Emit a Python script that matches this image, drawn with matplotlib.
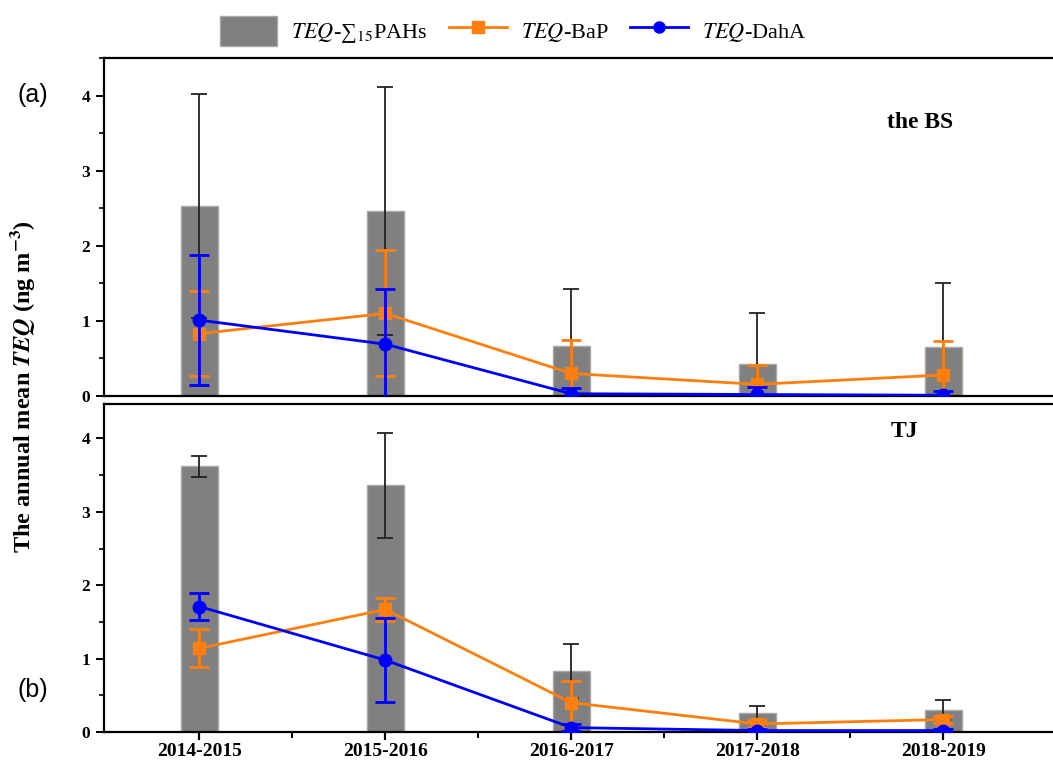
import matplotlib
matplotlib.use("Agg")
import matplotlib.pyplot as plt
import matplotlib.patches as mpatches
from matplotlib.lines import Line2D
from matplotlib.ticker import MultipleLocator, FixedLocator

plt.rcParams["font.family"] = ["Liberation Serif", "DejaVu Serif"]
plt.rcParams["mathtext.fontset"] = "stix"

years = ["2014-2015", "2015-2016", "2016-2017", "2017-2018", "2018-2019"]

# the BS
bs_sum = [2.53, 2.46, 0.66, 0.43, 0.65]
bs_sum_sd = [1.49, 1.65, 0.77, 0.68, 0.85]
bs_bap = [0.83, 1.10, 0.30, 0.155, 0.28]
bs_bap_sd = [0.57, 0.84, 0.45, 0.26, 0.45]
bs_daha = [1.01, 0.69, 0.03, 0.02, 0.01]
bs_daha_sd = [0.87, 0.73, 0.08, 0.10, 0.06]

# TJ
tj_sum = [3.62, 3.36, 0.83, 0.26, 0.30]
tj_sum_sd = [0.14, 0.71, 0.37, 0.10, 0.14]
tj_bap = [1.14, 1.67, 0.40, 0.11, 0.17]
tj_bap_sd = [0.26, 0.16, 0.30, 0.05, 0.05]
tj_daha = [1.71, 0.98, 0.06, 0.02, 0.02]
tj_daha_sd = [0.19, 0.57, 0.05, 0.02, 0.02]

GRAY = "#808080"
ORANGE = "#FF7F0E"
BLUE = "#0000FF"

fig = plt.figure(figsize=(10.53, 7.63), dpi=100)
ax1 = fig.add_axes([0.0983, 0.481, 0.9017, 0.443])
ax2 = fig.add_axes([0.0983, 0.0406, 0.9017, 0.430])

x = list(range(len(years)))


def draw_panel(ax, s, s_sd, b, b_sd, d, d_sd, ytop):
    ax.bar(x, s, width=0.2, color=GRAY, edgecolor="#a8a8a8", linewidth=1, zorder=1)
    ax.errorbar(x, s, yerr=s_sd, fmt="none", ecolor="#222222", elinewidth=1.3,
                capsize=6, capthick=1.3, zorder=2)
    ax.errorbar(x, b, yerr=b_sd, color=ORANGE, marker="s", markersize=9, lw=2,
                elinewidth=2, capsize=7, capthick=2, zorder=3)
    ax.errorbar(x, d, yerr=d_sd, color=BLUE, marker="o", markersize=9, lw=2,
                elinewidth=2, capsize=7, capthick=2, zorder=4)
    ax.set_xlim(-0.515, 4.59)
    ax.set_ylim(0, ytop)
    ax.yaxis.set_major_locator(MultipleLocator(1))
    ax.yaxis.set_minor_locator(MultipleLocator(0.5))
    ax.spines["right"].set_visible(False)
    for sp in ["top", "left", "bottom"]:
        ax.spines[sp].set_linewidth(1.6)
    ax.tick_params(axis="y", which="major", direction="out", length=6, width=1.4,
                   labelsize=12.5)
    ax.tick_params(axis="y", which="minor", direction="out", length=3.5, width=1.2)
    for lab in ax.get_yticklabels():
        lab.set_fontweight("bold")


draw_panel(ax1, bs_sum, bs_sum_sd, bs_bap, bs_bap_sd, bs_daha, bs_daha_sd, 4.5)
draw_panel(ax2, tj_sum, tj_sum_sd, tj_bap, tj_bap_sd, tj_daha, tj_daha_sd, 4.47)

ax1.set_xticks([])
ax1.tick_params(axis="x", which="both", bottom=False, labelbottom=False)

ax2.set_xticks(x)
ax2.set_xticklabels(years, fontsize=14, fontweight="bold")
ax2.xaxis.set_minor_locator(FixedLocator([0.5, 1.5, 2.5, 3.5]))
ax2.tick_params(axis="x", which="major", direction="out", length=6, width=1.6, pad=2)
ax2.tick_params(axis="x", which="minor", direction="out", length=4, width=1.4)

ax1.text(0.86, 0.81, "the BS", transform=ax1.transAxes, ha="center", va="center",
         fontsize=17, fontweight="bold")
ax2.text(0.844, 0.915, "TJ", transform=ax2.transAxes, ha="center", va="center",
         fontsize=17, fontweight="bold")

fig.text(0.031, 0.875, "(a)", fontsize=18, family="Liberation Sans",
         ha="center", va="center")
fig.text(0.031, 0.096, "(b)", fontsize=18, family="Liberation Sans",
         ha="center", va="center")

fig.text(0.021, 0.493, r"The annual mean $\mathbfit{TEQ}$ (ng m$^{\mathbf{-3}}$)",
         rotation=90, ha="center", va="center", fontsize=17.5, fontweight="bold")

handles = [
    mpatches.Patch(facecolor=GRAY, edgecolor="#a8a8a8"),
    Line2D([], [], color=ORANGE, marker="s", markersize=8, lw=2),
    Line2D([], [], color=BLUE, marker="o", markersize=8, lw=2),
]
labels = [r"$\mathit{TEQ}$-∑$_{15}$PAHs", r"$\mathit{TEQ}$-BaP", r"$\mathit{TEQ}$-DahA"]
fig.legend(handles, labels, loc="upper center", bbox_to_anchor=(0.487, 1.005),
           ncol=3, frameon=False, fontsize=16, handlelength=2.6, handleheight=1.7,
           columnspacing=1.0, handletextpad=0.6)

fig.savefig("out.png", dpi=100)
